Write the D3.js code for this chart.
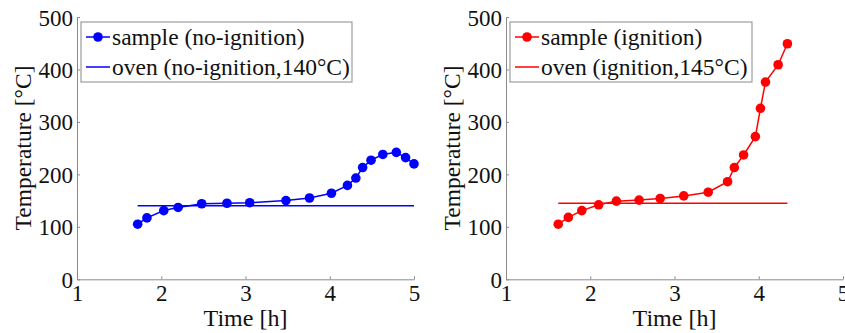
<!DOCTYPE html>
<html><head><meta charset="utf-8">
<script src="https://cdn.jsdelivr.net/npm/d3@7"></script>
<style>body{margin:0;background:#fff;}svg{display:block;}</style>
</head><body>
<svg id="c" width="845" height="333"></svg>
<script>
const xTicks = [1, 2, 3, 4, 5];
const yTicks = [0, 100, 200, 300, 400, 500];

const noIgnTime = [1.72, 1.83, 2.03, 2.20, 2.48, 2.78, 3.05, 3.48, 3.76, 4.02, 4.21, 4.31, 4.39, 4.49, 4.63, 4.79, 4.90, 5.00];
const noIgnTemp = [105, 117, 131, 137, 144, 145, 146, 150, 155, 164, 179, 193, 213, 227, 238, 242, 232, 220];
const noIgnOvenTime = [1.72, 5.0];
const noIgnOvenTemp = [140, 140];

const ignTime = [1.62, 1.74, 1.90, 2.10, 2.31, 2.58, 2.83, 3.11, 3.40, 3.63, 3.71, 3.82, 3.96, 4.02, 4.08, 4.23, 4.34];
const ignTemp = [105, 118, 131, 142, 149, 151, 154, 159, 166, 186, 213, 237, 272, 326, 376, 409, 449];
const ignOvenTime = [1.62, 4.34];
const ignOvenTemp = [145, 145];

const panels = [
  {x0: 77, x1: 414, color: "#0000ff", t: noIgnTime, v: noIgnTemp, ot: noIgnOvenTime, ov: noIgnOvenTemp,
   leg: ["sample (no-ignition)", "oven (no-ignition,140°C)"], legW: 271},
  {x0: 506, x1: 843, color: "#ff0000", t: ignTime, v: ignTemp, ot: ignOvenTime, ov: ignOvenTemp,
   leg: ["sample (ignition)", "oven (ignition,145°C)"], legW: 242}
];

const svg = d3.select("#c");
const yTop = 17, yBot = 279.3;
const axisCol = "#8a8a8a";
const font = "'Liberation Serif','Times New Roman',serif";

panels.forEach(p => {
  const x = d3.scaleLinear().domain([1, 5]).range([p.x0, p.x1]);
  const y = d3.scaleLinear().domain([0, 500]).range([yBot, yTop]);
  const g = svg.append("g");

  const xa = g.append("g").attr("transform", `translate(0,${yBot})`)
    .call(d3.axisBottom(x).tickValues(xTicks).tickFormat(d3.format("d")).tickSizeInner(-3).tickSizeOuter(0).tickPadding(3));
  const ya = g.append("g").attr("transform", `translate(${p.x0},0)`)
    .call(d3.axisLeft(y).tickValues(yTicks).tickFormat(d3.format("d")).tickSizeInner(-3).tickSizeOuter(0).tickPadding(4));
  [xa, ya].forEach(a => {
    a.select(".domain").attr("stroke", axisCol).attr("stroke-width", 1);
    a.selectAll(".tick line").attr("stroke", axisCol);
    a.selectAll(".tick text").attr("fill", "#111").attr("font-family", font).attr("font-size", 23);
  });
  xa.selectAll(".tick text").attr("dy", "0.82em");
  ya.selectAll(".tick text").attr("dy", "0.35em");

  g.append("text").attr("x", (p.x0 + p.x1) / 2).attr("y", 326).attr("text-anchor", "middle")
    .attr("font-family", font).attr("font-size", 24).attr("fill", "#111").text("Time [h]");
  g.append("text").attr("transform", `translate(${p.x0 - 46},${148}) rotate(-90)`)
    .attr("text-anchor", "middle").attr("font-family", font).attr("font-size", 23.5).attr("fill", "#111")
    .text("Temperature [°C]");

  const line = d3.line().x(d => x(d[0])).y(d => y(d[1]));
  const oven = p.ot.map((t, i) => [t, p.ov[i]]);
  const pts = p.t.map((t, i) => [t, p.v[i]]);
  g.append("path").attr("d", line(oven)).attr("fill", "none").attr("stroke", p.color).attr("stroke-width", 1.5);
  g.append("path").attr("d", line(pts)).attr("fill", "none").attr("stroke", p.color).attr("stroke-width", 1.5);
  g.selectAll("circle.pt").data(pts).enter().append("circle").attr("class", "pt")
    .attr("cx", d => x(d[0])).attr("cy", d => y(d[1])).attr("r", 4.8).attr("fill", p.color);

  // legend
  const lx = p.x0 + 4, ly = 22;
  g.append("rect").attr("x", lx).attr("y", ly).attr("width", p.legW).attr("height", 60)
    .attr("fill", "#fff").attr("stroke", axisCol).attr("stroke-width", 1);
  [0, 1].forEach(i => {
    const cy = ly + 15 + i * 30;
    g.append("line").attr("x1", lx + 5).attr("x2", lx + 29).attr("y1", cy).attr("y2", cy)
      .attr("stroke", p.color).attr("stroke-width", 1.5);
    if (i === 0) g.append("circle").attr("cx", lx + 17).attr("cy", cy).attr("r", 4.8).attr("fill", p.color);
    g.append("text").attr("x", lx + 31).attr("y", cy).attr("dy", "0.35em")
      .attr("font-family", font).attr("font-size", 23.5).attr("fill", "#111").text(p.leg[i]);
  });
});
</script>
</body></html>
